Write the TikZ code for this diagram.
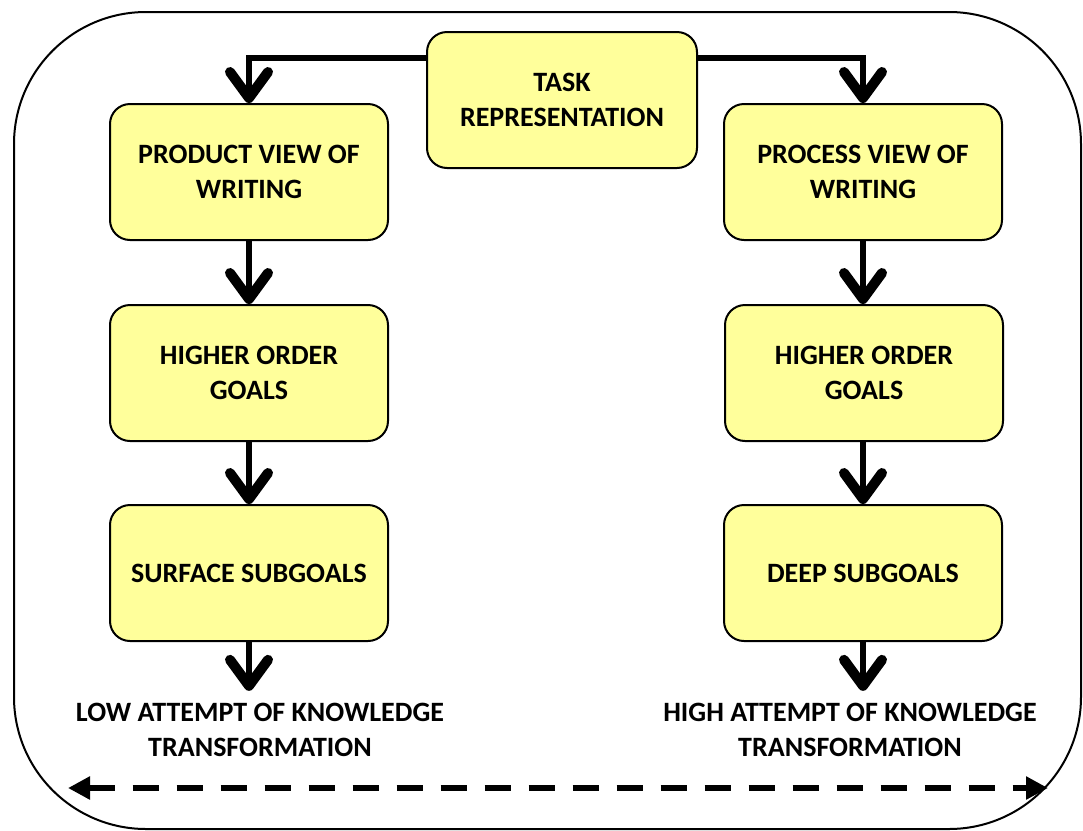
\documentclass[tikz,border=0pt]{standalone}
\usepackage{fontspec}
\setmainfont{Carlito}
\usetikzlibrary{arrows.meta,positioning}
\definecolor{boxyellow}{RGB}{255,255,155}

\tikzset{
  goalbox/.style={draw=black, line width=1pt, fill=boxyellow, rounded corners=10pt,
    minimum width=139pt, minimum height=68pt, align=center, font=\bfseries},
  flow/.style={line width=3.2pt, -{Straight Barb[length=13pt,width=19pt,line width=1.8pt 1,round]}},
  outcome/.style={align=center, font=\bfseries, inner sep=0pt},
  spread/.style={line width=3pt, dash pattern=on 13pt off 9pt, {Triangle[length=11pt,width=11pt]}-{Triangle[length=11pt,width=11pt]}}
}

\begin{document}
\begin{tikzpicture}[x=0.5pt, y=0.5pt]
  \fontsize{14}{17.5}\selectfont
  \useasboundingbox (0,0) rectangle (1083,-831);

  % frame
  \draw[line width=1pt, rounded corners=66pt] (14,-12) rectangle (1081,-829);

  \node[goalbox, minimum width=135pt] (task) at (562,-100) {TASK\\REPRESENTATION};

  % left column
  \node[goalbox] (prod) at (249,-172) {PRODUCT VIEW OF\\WRITING};
  \node[goalbox] (lhigh) at (249,-373) {HIGHER ORDER\\GOALS};
  \node[goalbox] (surf) at (249,-573) {SURFACE SUBGOALS};
  \node[outcome] (low) at (260,-730) {LOW ATTEMPT OF KNOWLEDGE\\TRANSFORMATION};

  % right column
  \node[goalbox] (proc) at (863,-172) {PROCESS VIEW OF\\WRITING};
  \node[goalbox] (rhigh) at (864,-373) {HIGHER ORDER\\GOALS};
  \node[goalbox] (deep) at (863,-573) {DEEP SUBGOALS};
  \node[outcome] (high) at (850,-730) {HIGH ATTEMPT OF KNOWLEDGE\\TRANSFORMATION};

  \draw[flow] ([yshift=21pt]task.west) -| (prod.north);
  \draw[flow] ([yshift=21pt]task.east) -| (proc.north);

  \draw[flow] (prod) -- (lhigh);
  \draw[flow] (lhigh) -- (surf);
  \draw[flow] (surf.south) -- ([yshift=6pt]surf.south |- low.north);

  \draw[flow] (proc) -- (proc |- rhigh.north);
  \draw[flow] (rhigh.south -| proc) -- (proc |- deep.north);
  \draw[flow] (deep.south) -- ([yshift=6pt]deep.south |- high.north);

  % knowledge scale
  \coordinate (lend) at (68,-788);
  \coordinate (rend) at (1048,-788);
  \draw[spread] (lend) -- (rend);
\end{tikzpicture}
\end{document}
